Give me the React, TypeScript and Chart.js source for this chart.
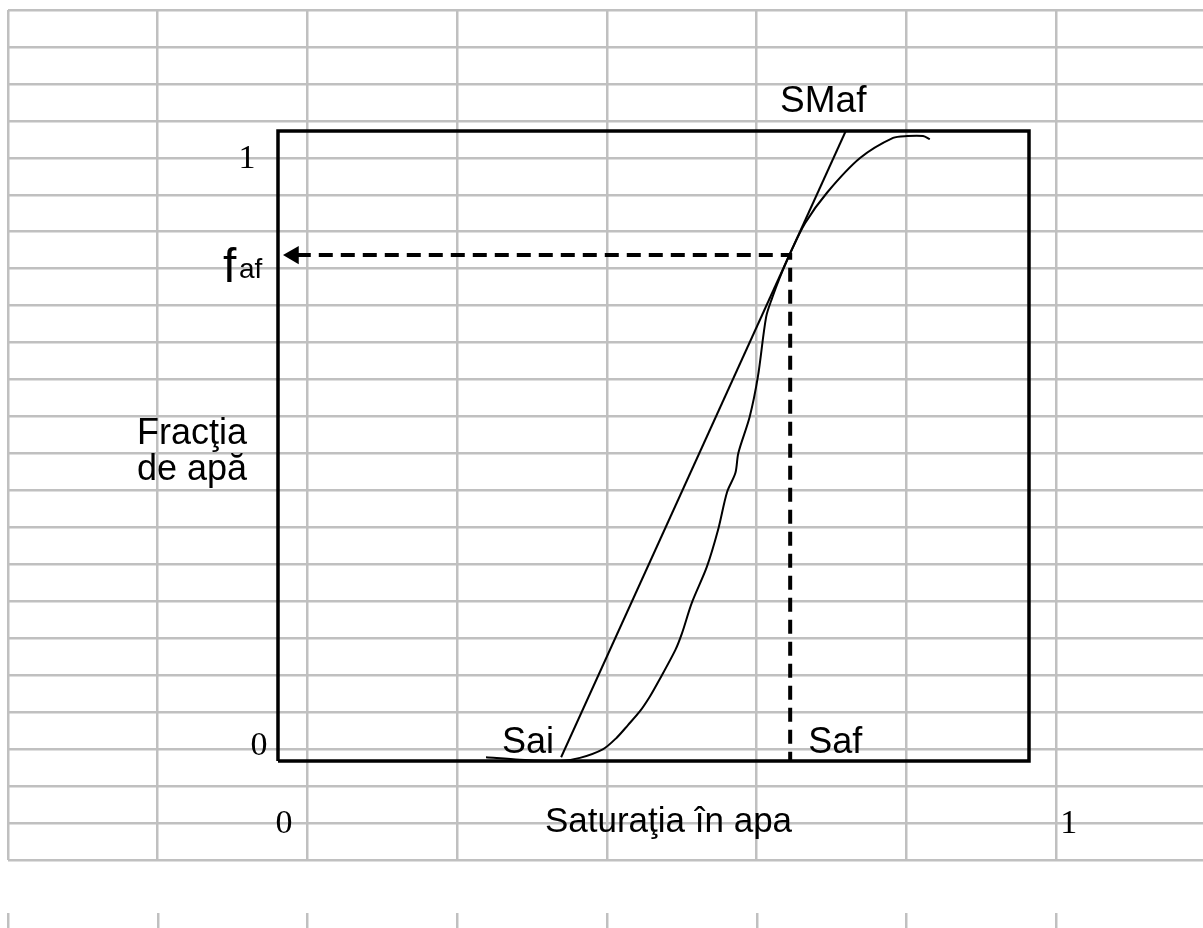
import React, { useEffect, useRef } from "react";
import { Chart, registerables } from "chart.js";

Chart.register(...registerables);

// Fractional-flow curve f_a(S_a)
const saturation = [
  0.277, 0.322, 0.375, 0.402, 0.433, 0.451, 0.466, 0.482, 0.495, 0.506, 0.529, 0.538,
  0.551, 0.571, 0.586, 0.598, 0.609, 0.613, 0.628, 0.639, 0.65, 0.658, 0.668, 0.682,
  0.702, 0.731, 0.775, 0.819, 0.838, 0.859, 0.868,
];
const waterCut = [
  0.006, 0.002, 0.0, 0.005, 0.019, 0.037, 0.057, 0.079, 0.102, 0.125, 0.176, 0.203,
  0.251, 0.308, 0.367, 0.427, 0.457, 0.489, 0.546, 0.61, 0.705, 0.735, 0.767, 0.806,
  0.854, 0.902, 0.957, 0.989, 0.992, 0.992, 0.987,
];

// Tangent from Sai to SMaf
const tangentSat = [0.377, 0.756];
const tangentCut = [0.006, 1.0];

// Frame of the diagram (0..1 by 0..1)
const frameSat = [0, 1, 1, 0, 0];
const frameCut = [0, 0, 1, 1, 0];

// Front values
const safValue = 0.682;
const fafValue = 0.803;
const arrowTipSat = 0.0206;
const arrowStartSat = 0.025;

// Spreadsheet grid (cell index)
const gridColumns = [0, 1, 2, 3, 4, 5, 6, 7];
const gridRows = Array.from({ length: 24 }, (_, i) => i);

type Label = { text: string; s: number; f: number; font: string; align: CanvasTextAlign };
const labels: Label[] = [
  { text: "1", s: -0.0413, f: 0.941, font: '34px "Liberation Serif"', align: "center" },
  { text: "0", s: -0.0253, f: 0.0095, font: '34px "Liberation Serif"', align: "center" },
  { text: "0", s: 0.008, f: -0.114, font: '34px "Liberation Serif"', align: "center" },
  { text: "1", s: 1.053, f: -0.114, font: '34px "Liberation Serif"', align: "center" },
  { text: "Saturaţia în apa", s: 0.52, f: -0.1127, font: '35px "Liberation Sans"', align: "center" },
  { text: "Fracţia", s: -0.1145, f: 0.503, font: '36px "Liberation Sans"', align: "center" },
  { text: "de apă", s: -0.1145, f: 0.446, font: '36px "Liberation Sans"', align: "center" },
  { text: "SMaf", s: 0.726, f: 1.03, font: '37px "Liberation Sans"', align: "center" },
  { text: "Sai", s: 0.333, f: 0.0127, font: '36px "Liberation Sans"', align: "center" },
  { text: "Saf", s: 0.706, f: 0.0127, font: '36px "Liberation Sans"', align: "left" },
  { text: "f", s: -0.0732, f: 0.76, font: '48px "Liberation Sans"', align: "left" },
  { text: "af", s: -0.0519, f: 0.767, font: '28px "Liberation Sans"', align: "left" },
];

const GRID_COLOR = "#c0c0c0";

const textPlugin = {
  id: "textLabels",
  afterDatasetsDraw(chart: any) {
    const { ctx } = chart;
    const xs = chart.scales.x;
    const ys = chart.scales.y;
    ctx.save();
    ctx.fillStyle = "#000";
    ctx.textBaseline = "alphabetic";
    for (const l of labels) {
      ctx.font = l.font;
      ctx.textAlign = l.align;
      ctx.fillText(l.text, xs.getPixelForValue(l.s), ys.getPixelForValue(l.f));
    }
    ctx.restore();
  },
};

const stubPlugin = {
  id: "bottomStubs",
  afterDraw(chart: any) {
    const { ctx } = chart;
    const gx = chart.scales.gx;
    ctx.save();
    ctx.strokeStyle = GRID_COLOR;
    ctx.lineWidth = 2.5;
    for (const c of gridColumns) {
      const px = Math.round(gx.getPixelForValue(c)) + 0.25;
      ctx.beginPath();
      ctx.moveTo(px, 913);
      ctx.lineTo(px, 928);
      ctx.stroke();
    }
    ctx.restore();
  },
};

export default function App() {
  const ref = useRef<HTMLCanvasElement | null>(null);

  useEffect(() => {
    if (!ref.current) return;
    const pts = (xs: number[], ys: number[]) => xs.map((v, i) => ({ x: v, y: ys[i] }));
    const chart = new Chart(ref.current, {
      type: "line",
      data: {
        datasets: [
          {
            data: pts(frameSat, frameCut),
            borderColor: "#000",
            borderWidth: 3.5,
            borderJoinStyle: "miter",
            pointRadius: 0,
            tension: 0,
            fill: false,
          },
          {
            data: pts(saturation, waterCut),
            borderColor: "#000",
            borderWidth: 2,
            pointRadius: 0,
            tension: 0.3,
            fill: false,
          },
          {
            data: pts(tangentSat, tangentCut),
            borderColor: "#000",
            borderWidth: 2,
            pointRadius: 0,
            tension: 0,
            fill: false,
          },
          {
            data: [
              { x: arrowStartSat, y: fafValue },
              { x: safValue, y: fafValue },
              { x: safValue, y: 0 },
            ],
            borderColor: "#000",
            borderWidth: 4,
            borderDash: [14, 8],
            pointRadius: 0,
            tension: 0,
            fill: false,
          },
          {
            data: [{ x: arrowTipSat, y: fafValue }],
            showLine: false,
            pointStyle: "triangle",
            rotation: -90,
            pointRadius: 10.5,
            pointBackgroundColor: "#000",
            pointBorderColor: "#000",
            pointBorderWidth: 0,
          },
        ],
      },
      options: {
        animation: false,
        responsive: false,
        events: [],
        layout: { autoPadding: false, padding: { left: 8, top: 10, right: 0, bottom: 68 } },
        plugins: { legend: { display: false }, tooltip: { enabled: false } },
        scales: {
          x: { type: "linear", display: false, min: -0.35952, max: 1.23169 },
          y: { type: "linear", display: false, min: -0.15714, max: 1.19206 },
          gx: {
            type: "linear",
            position: "bottom",
            min: 0,
            max: 7.9826,
            afterBuildTicks: (s: any) => {
              s.ticks = gridColumns.map((v) => ({ value: v }));
            },
            ticks: { display: false },
            grid: { color: GRID_COLOR, lineWidth: 2.5, drawTicks: false },
            border: { display: false },
          },
          gy: {
            type: "linear",
            position: "left",
            min: 0,
            max: 23,
            afterBuildTicks: (s: any) => {
              s.ticks = gridRows.map((v) => ({ value: v }));
            },
            ticks: { display: false },
            grid: { color: GRID_COLOR, lineWidth: 2.5, drawTicks: false },
            border: { display: false },
          },
        },
      },
      plugins: [textPlugin, stubPlugin],
    } as any);
    return () => chart.destroy();
  }, []);

  return (
    <div style={{ position: "absolute", left: 0, top: 0, width: 1203, height: 928, background: "#fff" }}>
      <canvas ref={ref} width={1203} height={928} style={{ display: "block", width: 1203, height: 928 }} />
    </div>
  );
}
